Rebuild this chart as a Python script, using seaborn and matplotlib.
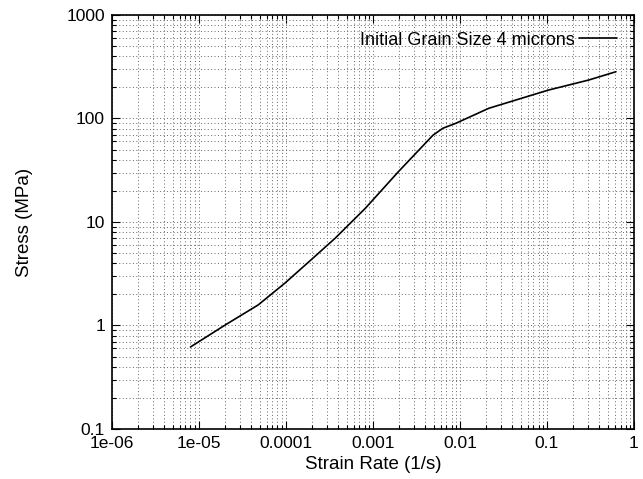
import numpy as np
import pandas as pd
import matplotlib
matplotlib.use("Agg")
import matplotlib.pyplot as plt
import matplotlib.ticker as mticker
import seaborn as sns

# Data
strain_rate = [8.0e-6, 2.0e-5, 4.8e-5, 9.7e-5, 1.94e-4, 3.7e-4, 8.2e-4,
               1.96e-3, 4.9e-3, 6.35e-3, 9.0e-3, 2.15e-2, 0.1035, 0.3, 0.62]
stress = [0.62, 1.01, 1.58, 2.56, 4.3, 7.0, 13.6,
          30.6, 69.0, 80.4, 90.0, 125.6, 188.0, 235.0, 283.0]
series_label = "Initial Grain Size 4 microns"
x_ticks = [1e-6, 1e-5, 1e-4, 1e-3, 1e-2, 1e-1, 1]
x_tick_labels = ["1e-06", "1e-05", "0.0001", "0.001", "0.01", "0.1", "1"]
y_ticks = [0.1, 1, 10, 100, 1000]
y_tick_labels = ["0.1", "1", "10", "100", "1000"]

sns.set_style("ticks")
plt.rcParams['font.family'] = ['Liberation Sans', 'DejaVu Sans']
plt.rcParams['text.color'] = 'black'
plt.rcParams['axes.labelcolor'] = 'black'

df = pd.DataFrame({"x": strain_rate, "y": stress, "s": series_label})

fig = plt.figure(figsize=(6.43, 4.79), dpi=100)
ax = fig.add_axes([0.174, 0.1044, 0.812, 0.8643])

sns.lineplot(data=df, x="x", y="y", hue="s", palette=["black"], ax=ax,
             linewidth=1.2, sort=False, estimator=None)

ax.set_xscale("log")
ax.set_yscale("log")
ax.set_xlim(1e-6, 1)
ax.set_ylim(0.1, 1000)

ax.xaxis.set_major_locator(mticker.FixedLocator(x_ticks))
ax.set_xticklabels(x_tick_labels)
ax.yaxis.set_major_locator(mticker.FixedLocator(y_ticks))
ax.set_yticklabels(y_tick_labels)
ax.xaxis.set_minor_locator(mticker.LogLocator(base=10, subs=np.arange(2, 10), numticks=20))
ax.yaxis.set_minor_locator(mticker.LogLocator(base=10, subs=np.arange(2, 10), numticks=20))
ax.xaxis.set_minor_formatter(mticker.NullFormatter())
ax.yaxis.set_minor_formatter(mticker.NullFormatter())

ax.tick_params(which="both", direction="in", top=True, right=True, colors="black",
               labelcolor="black", labelsize=12.5, width=0.8)
ax.tick_params(which="major", length=6, pad=5)
ax.tick_params(which="minor", length=3)

ax.grid(which="both", linestyle=(0, (1, 2.5)), color="#666666", linewidth=0.7)
for sp in ax.spines.values():
    sp.set_color("black")
    sp.set_linewidth(1.2)

ax.set_xlabel("Strain Rate (1/s)", fontsize=13.5, labelpad=4, color="black")
ax.set_ylabel("Stress (MPa)", fontsize=13.5, labelpad=24, color="black")

leg = ax.legend(loc="upper right", bbox_to_anchor=(0.998, 0.999), frameon=False,
                markerfirst=False, handlelength=2.1, handletextpad=0.2,
                fontsize=13, title=None)
for t in leg.get_texts():
    t.set_color("black")

fig.savefig("out.png", dpi=100)
